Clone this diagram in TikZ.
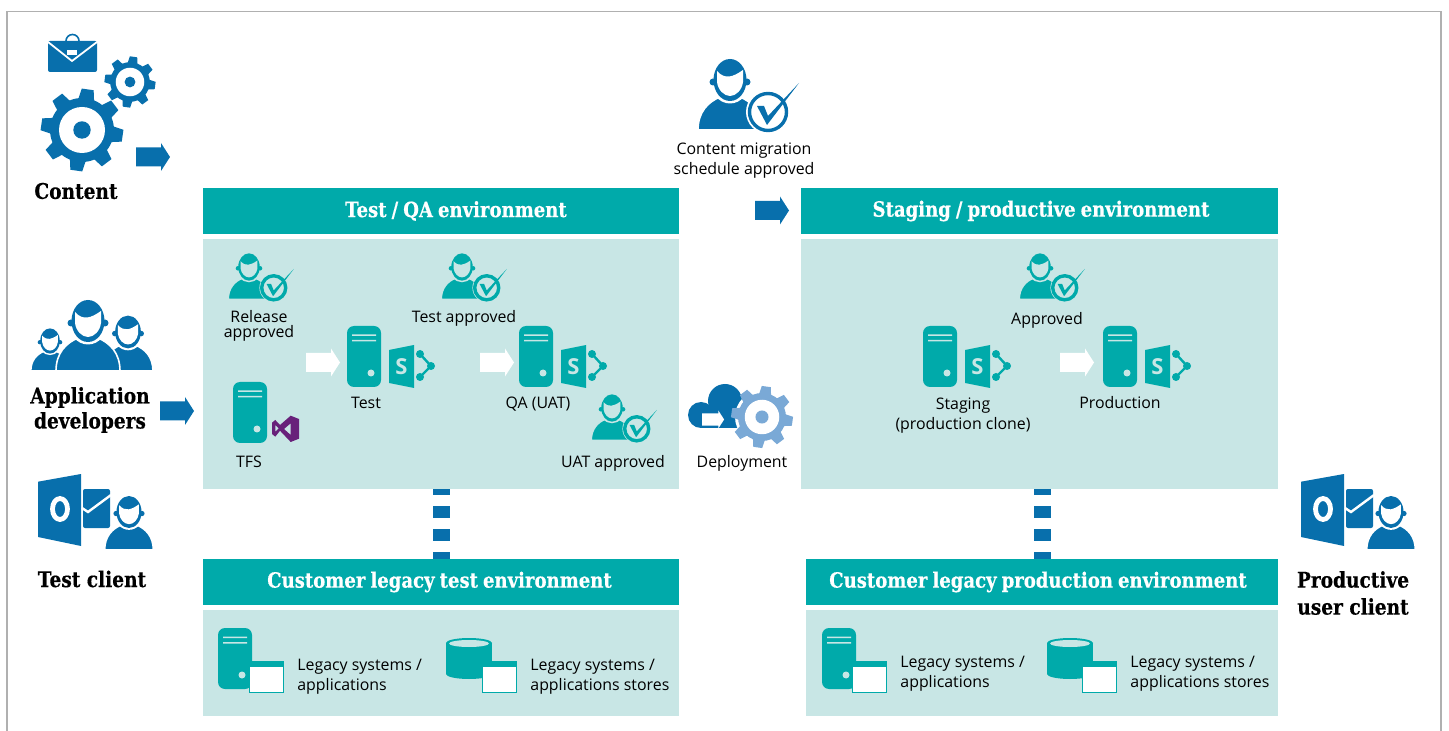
\documentclass[tikz,border=0pt]{standalone}
\usepackage{fontspec}
\usepackage{tikz}
\setmainfont{Open Sans}
\newfontfamily\slabfont{DejaVu Serif}[FakeStretch=0.86,BoldFeatures={FakeBold=0.4}]
\newcommand{\tightwords}{\spaceskip=.24em\relax}
\definecolor{node_blue}{RGB}{8,111,172}
\definecolor{node_sky}{RGB}{122,169,214}
\definecolor{node_teal}{RGB}{0,170,170}
\definecolor{panel_teal}{RGB}{200,230,229}
\definecolor{node_purple}{RGB}{104,33,122}
\definecolor{frame_gray}{RGB}{176,176,176}

\tikzset{
  pics/person/.style 2 args={code={
    \path[fill=#1,draw=#2,line width=.8pt] (-32,50) .. controls (-32,32) and (-22,22) .. (-10,17) -- (10,17) .. controls (22,22) and (32,32) .. (32,50) -- cycle;
    \fill[#2] (0,0) ellipse [x radius=20,y radius=23.5];
    \fill[#1] (0,0) ellipse [x radius=16.5,y radius=21];
    \fill[#1] (-17,2) circle (3.5) (17,2) circle (3.5);
    \fill[#2] (-13,-9) .. controls (-5,0) and (3,-3) .. (13,-10) -- (13,2) .. controls (12,10) and (6,16) .. (0,16) .. controls (-6,16) and (-12,10) .. (-13,2) -- cycle;
  }},
  pics/approver/.style 2 args={code={
    \pic[transform shape] at (0,0) {person={#1}{#2}};
    \fill[#2] (38,32) circle (22);
    \draw[#1,line width=1.7pt,fill=#2] (38,32) circle (18.5);
    \fill[#1] (27,26) -- (34,26) -- (38,36) -- (69,3) -- (37,45) -- cycle;
  }},
  pics/gear/.style 2 args={code={
    \foreach \a in {-8,37,82,127,172,217,262,307}
      \fill[#1,rotate=\a] (-8,-30) -- (-6,-41) -- (6,-41) -- (8,-30) -- cycle;
    \fill[#1] (0,0) circle (32);
    \fill[#2] (0,0) circle (23);
    \fill[#1] (0,0) circle (8.7);
  }},
  pics/blockarrow/.style={code={
    \fill[#1] (0,-9.5) -- (25,-9.5) -- (25,-14) -- (34,0) -- (25,14) -- (25,9.5) -- (0,9.5) -- cycle;
  }},
  pics/server/.style={code={
    \fill[node_teal,rounded corners=3.5pt] (0,0) rectangle (34,61);
    \fill[panel_teal] (5,8.5) rectangle (29,10) (5,14) rectangle (29,15.5);
    \fill[panel_teal] (24,47) circle (3.5);
  }},
  pics/sharepoint/.style={code={
    \fill[node_teal] (42,24) -- (67,19) -- (67,62) -- (42,57) -- cycle;
    \draw[node_teal,line width=1.2pt] (73,28) -- (84,40) -- (73,51);
    \fill[node_teal] (73,28) circle (4) (84,40) circle (4) (73,51) circle (4);
    \node[text=panel_teal,inner sep=0,font=\fontsize{11}{11}\selectfont\bfseries] (sletter) at (54.5,41) {S};
  }},
  pics/appwindow/.style={code={
    \draw[node_teal,fill=white,line width=.5pt] (0,0) rectangle (34,31);
    \fill[node_teal] (0,0) rectangle (34,6);
  }},
  pics/barrel/.style={code={
    \fill[node_teal] (0,5) rectangle (46,36);
    \fill[node_teal] (23,36) ellipse [x radius=23,y radius=5];
    \fill[node_teal] (23,5) ellipse [x radius=23,y radius=5];
    \fill[panel_teal] (23,5.5) ellipse [x radius=20,y radius=3.5];
  }},
  pics/outlook/.style={code={
    \fill[node_blue] (0,7.7) -- (43,0) -- (43,72) -- (0,63) -- cycle;
    \draw[white,line width=2.4pt] (22,35) ellipse [x radius=7.5,y radius=10.5];
    \fill[node_blue,rounded corners=1pt] (45,15) rectangle (72,54);
    \draw[white,line width=1.2pt] (44,34) -- (50,38) -- (73,21);
  }}
}

\begin{document}
\begin{tikzpicture}[x=0.5pt,y=-0.5pt,>=stealth]
    \tikzstyle{label}=[inner sep=0,align=center,text=black,text height=6.2pt,text depth=1.8pt,font=\fontsize{7.95}{10}\selectfont]
    \tikzstyle{side}=[style=label,anchor=west,align=left]
    \tikzstyle{actor}=[inner sep=0,align=center,text=black,font=\fontsize{10.8}{12.5}\selectfont\slabfont\bfseries]
    \tikzstyle{head}=[fill=node_teal,text=white,inner sep=0,minimum height=23pt,font=\fontsize{10.5}{12}\selectfont\slabfont\bfseries\tightwords]
    \tikzstyle{panel}=[fill=panel_teal,inner sep=0]
    \tikzstyle{link}=[node_blue,line width=8.5pt,dash pattern=on 6pt off 5.5pt,dash phase=3pt]

    \useasboundingbox (0,0) rectangle (1449,731);
    \draw[frame_gray,line width=.8pt] (7,731) -- (7,11.5) -- (1441,11.5) -- (1441,731);

    \node[head,minimum width=238pt] (testhead)  at (441,211)    {\hspace*{15pt}Test / QA environment};
    \node[panel,minimum width=238pt,minimum height=125pt] (testpanel) at (441,364) {};
    \node[head,minimum width=238.5pt] (stagehead) at (1039.5,211) {\hspace*{1.5pt}Staging / productive environment};
    \node[panel,minimum width=238.5pt,minimum height=125pt] (stagepanel) at (1039.5,364) {};
    \node[head,minimum width=238pt] (oldtesthead) at (441,582) {Customer legacy test environment\hspace*{1.5pt}};
    \node[panel,minimum width=238pt,minimum height=53pt] (oldtestpanel) at (441,663) {};
    \node[head,minimum width=236pt] (oldprodhead) at (1042,582) {Customer legacy production environment\hspace*{4pt}};
    \node[panel,minimum width=236pt,minimum height=53pt] (oldprodpanel) at (1042,663) {};

    \draw[link] (testpanel.south) -- (oldtesthead.north);
    \draw[link] (stagepanel.south -| oldprodhead.north) -- (oldprodhead.north);

    \fill[node_blue,rounded corners=1pt] (48,41) rectangle (97,72);
    \draw[node_blue,line width=.8pt] (66,41) arc (180:360:6.5);
    \draw[white,line width=.9pt] (48,42) -- (72,61) -- (97,42);
    \fill[white] (67,50) rectangle (77,55);
    \pic[scale=.62] at (130,82) {gear={node_blue}{white}};
    \pic at (82,130) {gear={node_blue}{white}};
    \pic at (136,157) {blockarrow=node_blue};
    \node[actor] (content) at (76,191) {Content};

    \pic[scale=.6] at (50,341) {person={node_blue}{white}};
    \pic[scale=.78] at (128,332) {person={node_blue}{white}};
    \pic at (88,321) {person={node_blue}{white}};
    \node[actor] (developers) at (90,410) {Application\\developers};
    \pic at (160,411) {blockarrow=node_blue};

    \pic at (38,474) {outlook};
    \pic[scale=.76] at (129,512) {person={node_blue}{white}};
    \node[actor] (testclient) at (92,579) {Test client};

    \pic at (1301,474) {outlook};
    \pic[scale=.76] at (1391,512) {person={node_blue}{white}};
    \node[actor] (prodclient) at (1353,593) {Productive\\[1pt]user client};

    \pic at (730,80) {approver={node_blue}{white}};
    \node[label] (schedule) at (744,170) {Content migration\\schedule approved};
    \pic at (755,210.5) {blockarrow=node_blue};

    \fill[node_blue] (725,401) circle (17);
    \fill[node_blue] (701,415) circle (13);
    \fill[node_blue] (701,410) rectangle (745,428);
    \fill[white] (762,417) circle (27);
    \pic[scale=.65] at (702,419.5) {blockarrow=white};
    \pic[scale=.75] at (762,417) {gear={node_sky}{white}};
    \node[label] (deployment) at (742,463) {Deployment};

    \pic[scale=.65] at (249,267) {approver={node_teal}{panel_teal}};
    \node[label] (release) at (259,333) {Release\\[-2.5pt]approved};
    \pic[scale=.65] at (462,267) {approver={node_teal}{panel_teal}};
    \node[label] (testok) at (464,318) {Test approved};
    \pic[scale=.65] at (612,408) {approver={node_teal}{panel_teal}};
    \node[label] (uatok) at (613,463) {UAT approved};
    \pic at (233,382) {server};
    \fill[node_purple,even odd rule] (290.7,415.7) -- (299,419) -- (299,438.7) -- (290.7,442) -- (280,430.7) -- (275.3,436.7) -- (272,434) -- (272,422.7) -- (275.3,420) -- (280,425) -- cycle
      (290.7,423.3) -- (290.7,435) -- (284,429) -- cycle (275.3,425) -- (275.3,431.7) -- (278.7,428.3) -- cycle;
    \node[label] (tfs) at (249,463) {TFS};
    \pic at (306,362.5) {blockarrow=white};
    \pic at (347,326) {server};
    \pic at (347,326) {sharepoint};
    \node[label] (test) at (366,404) {Test};
    \pic at (480,362.5) {blockarrow=white};
    \pic at (519,326) {server};
    \pic at (519,326) {sharepoint};
    \node[label] (qa) at (538,404) {QA (UAT)};

    \pic[scale=.65] at (1040,267) {approver={node_teal}{panel_teal}};
    \node[label] (approved) at (1047,320) {Approved};
    \pic at (923,326) {server};
    \pic at (923,326) {sharepoint};
    \node[label] (staging) at (963,425) {Staging\\(production clone)};
    \pic at (1060,362.5) {blockarrow=white};
    \pic at (1103,326) {server};
    \pic at (1103,326) {sharepoint};
    \node[label] (production) at (1120,404) {Production};

    \pic at (218,628) {server};
    \pic at (249,661) {appwindow};
    \node[side] (oldtestapps) at (297,686) {Legacy systems /\\applications};
    \pic at (446,638) {barrel};
    \pic at (482,661) {appwindow};
    \node[side] (oldteststores) at (530,686) {Legacy systems /\\applications stores};

    \pic at (822,628) {server};
    \pic at (852,661) {appwindow};
    \node[side] (oldprodapps) at (900,683) {Legacy systems /\\applications};
    \pic at (1047,638) {barrel};
    \pic at (1082,661) {appwindow};
    \node[side] (oldprodstores) at (1130,683) {Legacy systems /\\applications stores};
\end{tikzpicture}
\end{document}
